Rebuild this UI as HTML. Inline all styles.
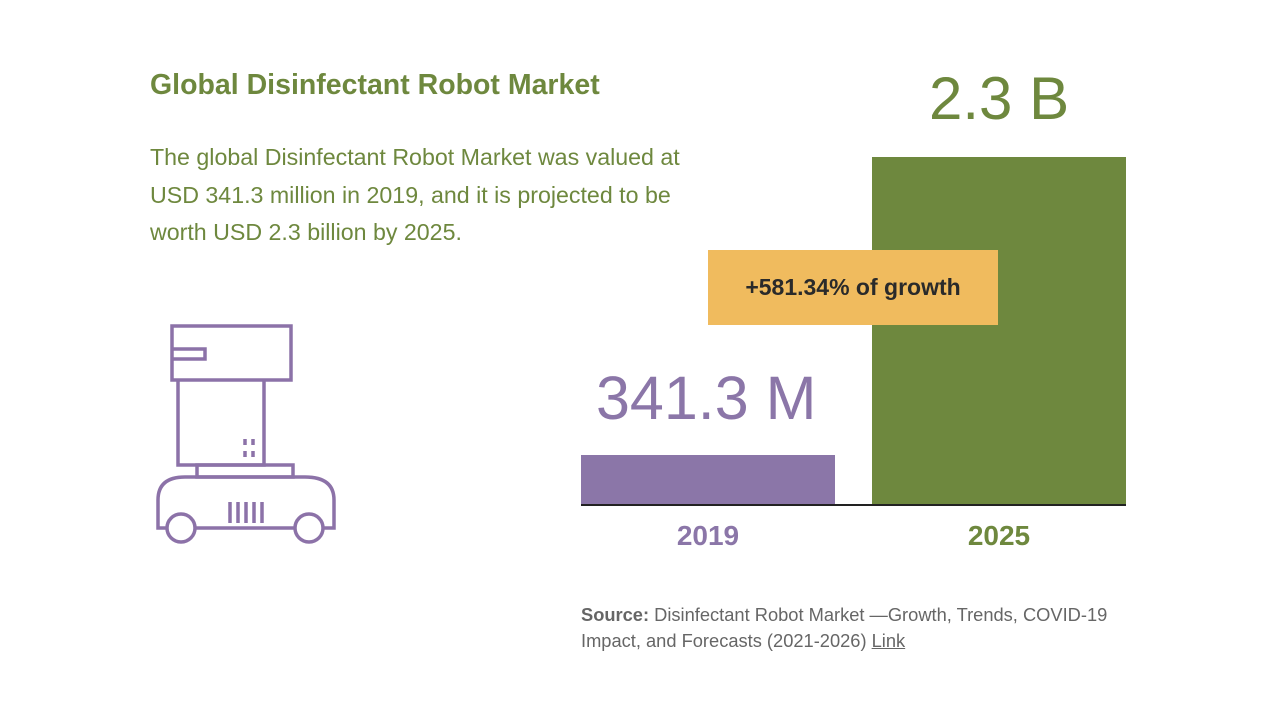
<!DOCTYPE html>
<html><head><style>
body{margin:0;width:1276px;height:721px;background:#fff;position:relative;overflow:hidden;font-family:"Liberation Sans",sans-serif}
.a{position:absolute;white-space:nowrap}
</style></head><body>
<div class="a" style="left:150px;top:69px;font-size:28.5px;font-weight:bold;color:#6e883e">Global Disinfectant Robot Market</div>
<div class="a" style="left:150px;top:139px;font-size:23.2px;line-height:37.5px;color:#6e883e">The global Disinfectant Robot Market was valued at<br>USD 341.3 million in 2019, and it is projected to be<br>worth USD 2.3 billion by 2025.</div>
<svg class="a" style="left:0;top:0" width="1276" height="721">
<g fill="none" stroke="#8c72a8" stroke-width="3.5">
<rect x="172" y="326" width="119" height="54"/>
<path d="M172 349H205V359H172"/>
<path d="M178 380V465H264V380"/>
<path d="M245 439v6M253 439v6M245 451v6M253 451v6"/>
<rect x="197" y="465" width="96" height="12"/>
<path d="M167 528H158V500Q158 477 185 477H305Q334 477 334 500V528H323M195 528H295"/>
<circle cx="181" cy="528" r="14"/><circle cx="309" cy="528" r="14"/>
<path d="M230 502v21M238 502v21M246 502v21M254 502v21M262 502v21"/>
</g>
<rect x="581" y="455" width="254" height="50" fill="#8b76a8"/>
<rect x="872" y="157" width="254" height="348" fill="#6e883e"/>
<line x1="581" y1="505" x2="1126" y2="505" stroke="#222" stroke-width="2"/>
<rect x="708" y="250" width="290" height="75" fill="#f0bb5e"/>
</svg>
<div class="a" style="left:708px;top:274px;width:290px;text-align:center;font-size:23px;font-weight:bold;color:#2a2a2a">+581.34% of growth</div>
<div class="a" style="left:929px;top:64px;font-size:60px;color:#6e883e">2.3 B</div>
<div class="a" style="left:596px;top:363px;font-size:61px;color:#8b76a8">341.3 M</div>
<div class="a" style="left:581px;top:520px;width:254px;text-align:center;font-size:28px;font-weight:bold;color:#8b76a8">2019</div>
<div class="a" style="left:872px;top:520px;width:254px;text-align:center;font-size:28px;font-weight:bold;color:#6e883e">2025</div>
<div class="a" style="left:581px;top:602px;font-size:18.3px;line-height:26px;color:#666"><b>Source:</b> Disinfectant Robot Market —Growth, Trends, COVID-19<br>Impact, and Forecasts (2021-2026) <span style="text-decoration:underline">Link</span></div>
</body></html>
